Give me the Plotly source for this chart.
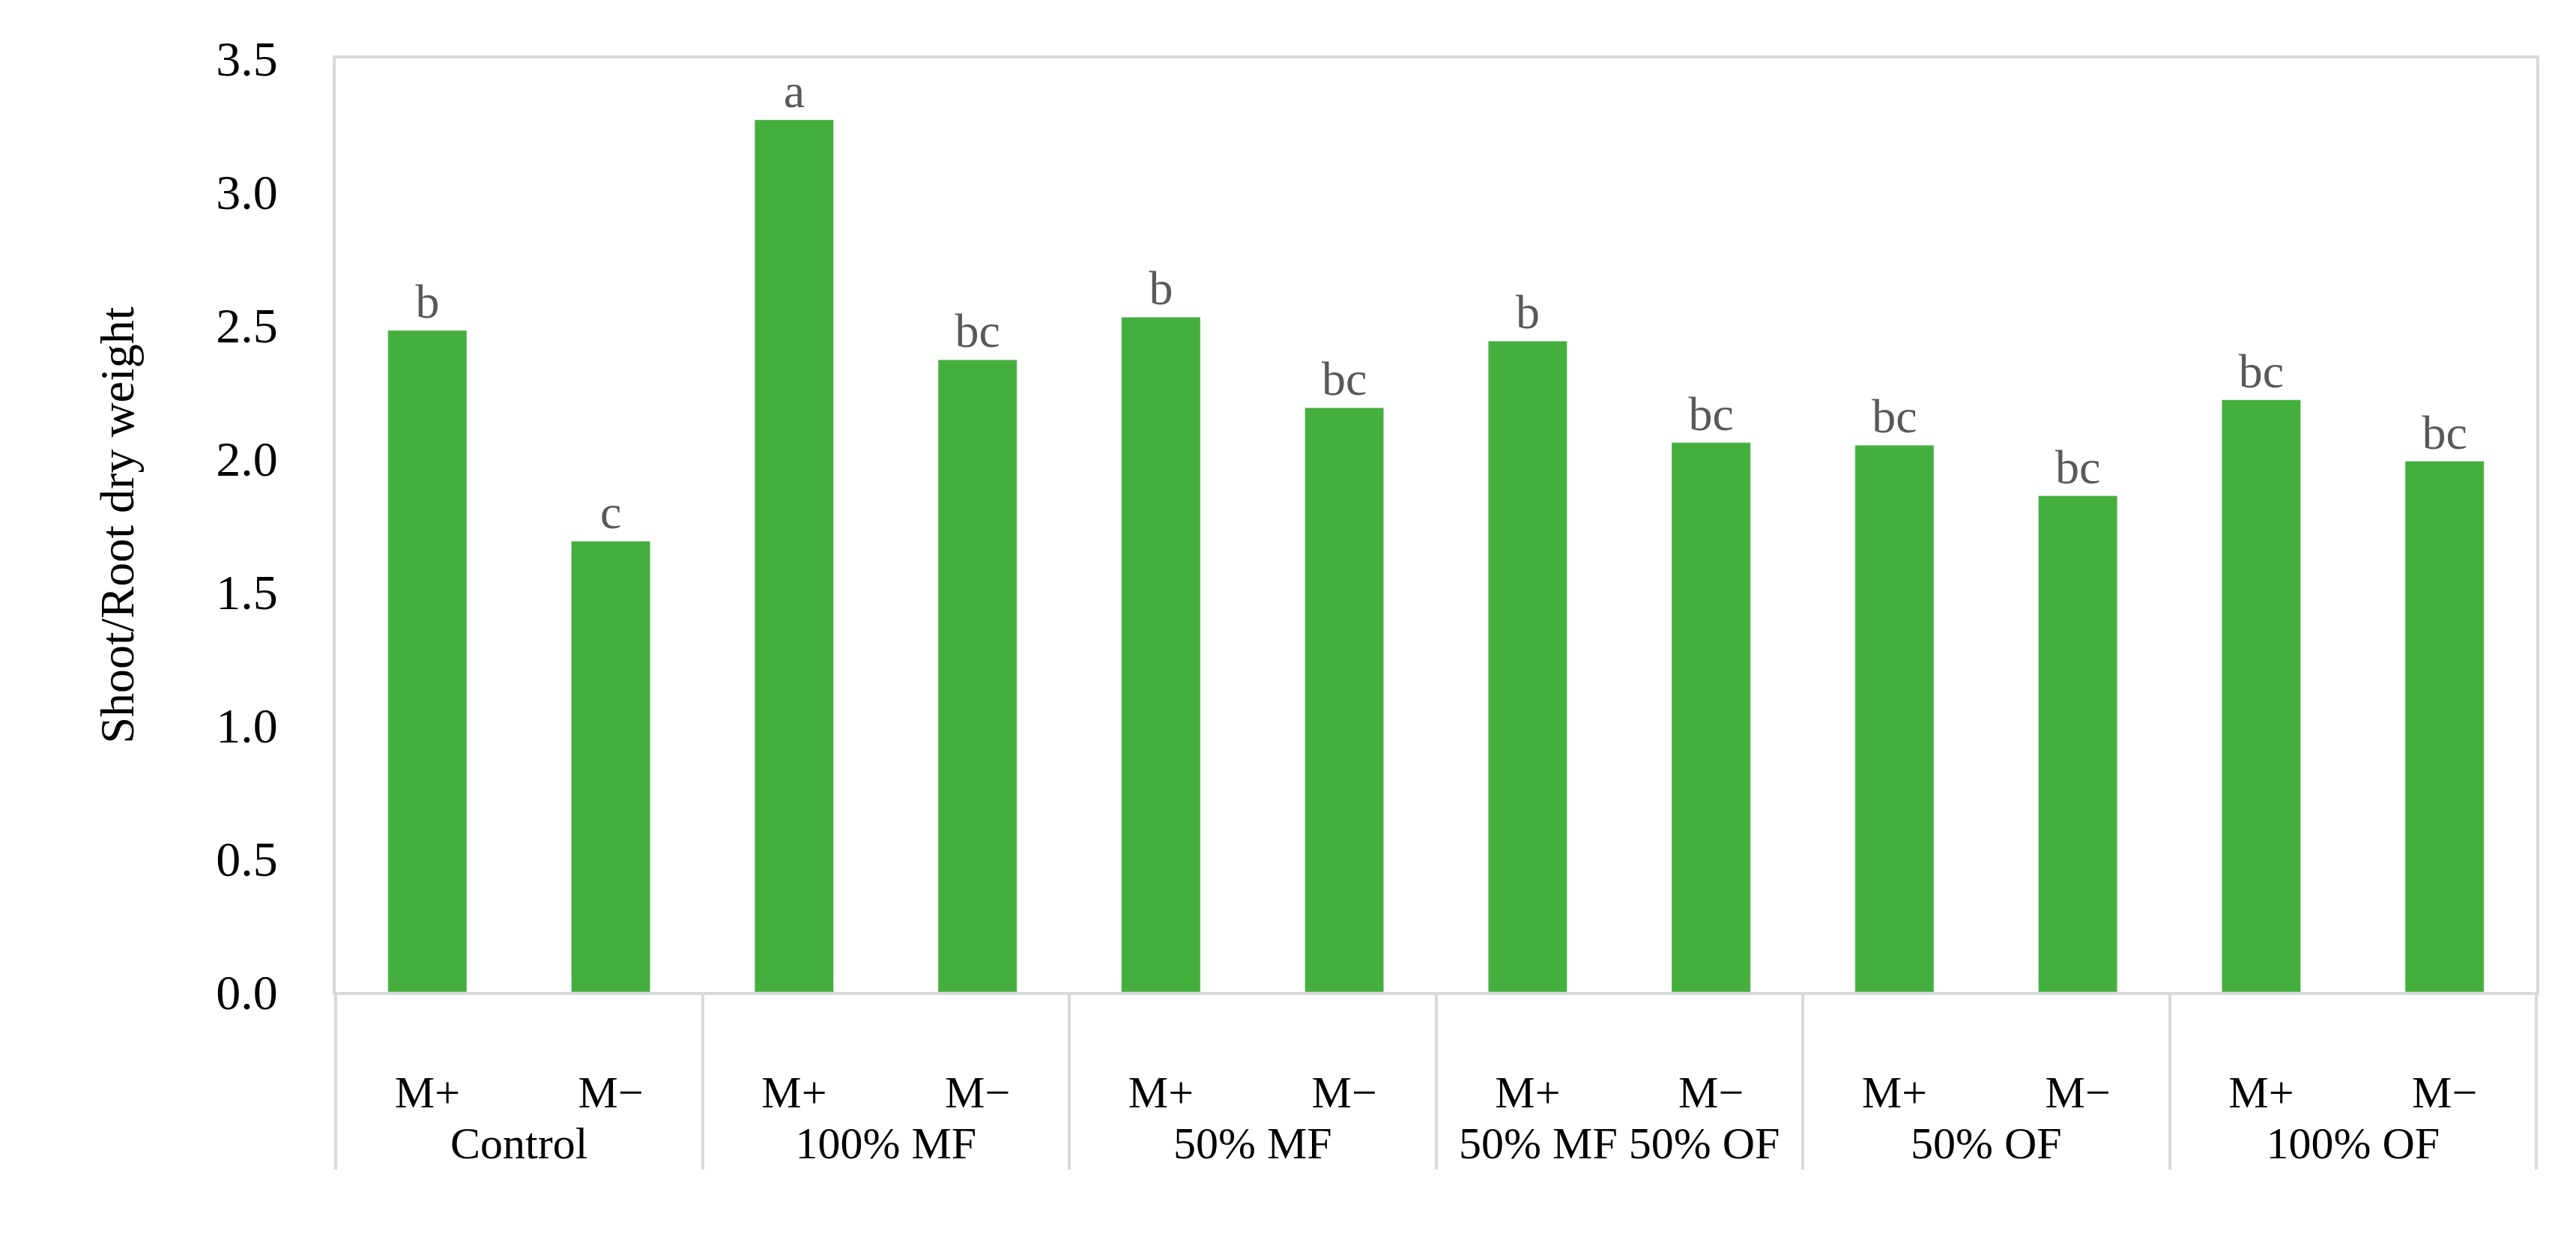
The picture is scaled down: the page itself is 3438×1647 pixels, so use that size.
import plotly.graph_objects as go

groups = ["Control", "100% MF", "50% MF", "50% MF 50% OF", "50% OF", "100% OF"]
subs = ["M+", "M−"]
values = [2.48, 1.69, 3.27, 2.37, 2.53, 2.19, 2.44, 2.06, 2.05, 1.86, 2.22, 1.99]
letters = ["b", "c", "a", "bc", "b", "bc", "b", "bc", "bc", "bc", "bc", "bc"]

x0 = [g for g in groups for _ in subs]
x1 = ["<br>" + s + "<br>&nbsp;" for _ in groups for s in subs]

font = "Liberation Serif"
fig = go.Figure(go.Bar(
    x=[x0, x1], y=values, marker_color="#44AF3C", width=0.43,
    text=letters, textposition="outside", cliponaxis=False,
    textfont=dict(family=font, size=64, color="#595959"),
))
fig.update_layout(
    width=3438, height=1647, plot_bgcolor="white", paper_bgcolor="white",
    margin=dict(l=440, r=61, t=70, b=331), showlegend=False,
    font=dict(family=font, size=62, color="black"),
)
fig.update_yaxes(range=[0, 3.5], dtick=0.5, tickformat=".1f", showgrid=False,
                 showline=True, linecolor="#d9d9d9", linewidth=4, mirror=True,
                 ticks="", ticklabelstandoff=60, zeroline=False,
                 title=dict(text="Shoot/Root dry weight", font=dict(size=64), standoff=90),
                 tickfont=dict(size=66))
fig.update_xaxes(showline=True, linecolor="#d9d9d9", linewidth=4, mirror=True,
                 showdividers=True, dividercolor="#d9d9d9", dividerwidth=4,
                 tickfont=dict(size=60), ticks="")
fig.write_html("out.html")
